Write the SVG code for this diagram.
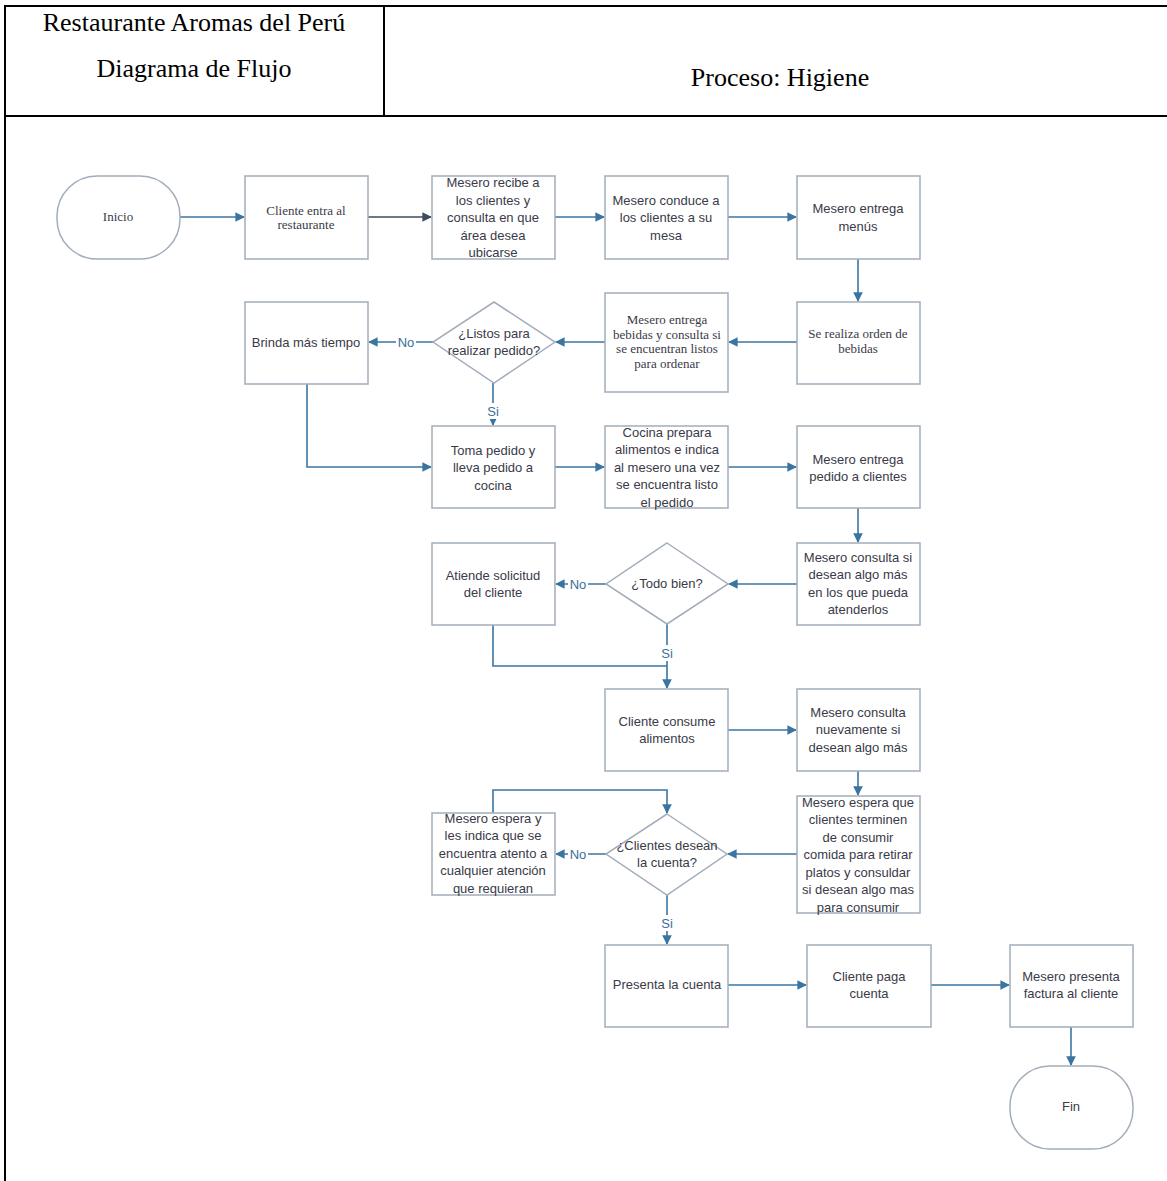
<svg xmlns="http://www.w3.org/2000/svg" width="1167" height="1181" viewBox="0 0 1167 1181">
  <defs>
    <style>
      .frame { stroke: #000; stroke-width: 2; fill: none; }
      .hdr { font-family: "Liberation Serif", "Times New Roman", serif; font-size: 26px; fill: #000; text-anchor: middle; }
      .box { fill: #fff; stroke: #a3adbb; stroke-width: 1.5; }
      .t { font-family: "Liberation Sans", Arial, sans-serif; font-size: 13px; fill: #3a3a48; text-anchor: middle; }
      .s { font-family: "Liberation Serif", "Times New Roman", serif; font-size: 13px; fill: #3a3a48; text-anchor: middle; }
      .c { fill: none; stroke: #3a75a2; stroke-width: 1.6; }
      .dark { stroke: #3d4c5c; }
      .lbl { font-family: "Liberation Sans", Arial, sans-serif; font-size: 13px; fill: #3a6f99; text-anchor: middle; }
      .lblbg { fill: #fff; }
    </style>
    <marker id="arr" viewBox="0 0 10 10" refX="9" refY="5" markerWidth="6" markerHeight="6" orient="auto" markerUnits="strokeWidth">
      <path d="M0,0 L10,5 L0,10 Z" fill="#3a75a2"/>
    </marker>
    <marker id="arrDark" viewBox="0 0 10 10" refX="9" refY="5" markerWidth="6" markerHeight="6" orient="auto" markerUnits="strokeWidth">
      <path d="M0,0 L10,5 L0,10 Z" fill="#3d4c5c"/>
    </marker>
  </defs>

  <rect width="1167" height="1181" fill="#fff"/>

  <!-- Header table -->
  <g id="header">
    <line class="frame" x1="4" y1="6" x2="1167" y2="6"/>
    <line class="frame" x1="5" y1="5" x2="5" y2="1181"/>
    <line class="frame" x1="384" y1="6" x2="384" y2="116"/>
    <line class="frame" x1="4" y1="116" x2="1167" y2="116"/>
    <text class="hdr" x="194" y="31">Restaurante Aromas del Perú</text>
    <text class="hdr" x="194" y="77">Diagrama de Flujo</text>
    <text class="hdr" x="780" y="86">Proceso: Higiene</text>
  </g>

  <!-- Connectors -->
  <g id="connectors">
    <path class="c" d="M180,217 H244" marker-end="url(#arr)"/>
    <path class="c dark" d="M368,217 H431" marker-end="url(#arrDark)"/>
    <path class="c" d="M555,217 H604" marker-end="url(#arr)"/>
    <path class="c" d="M728,217 H796" marker-end="url(#arr)"/>
    <path class="c" d="M858,259 V301" marker-end="url(#arr)"/>
    <path class="c" d="M797,342 H729" marker-end="url(#arr)"/>
    <path class="c" d="M605,342 H556" marker-end="url(#arr)"/>
    <path class="c" d="M433,342 H369" marker-end="url(#arr)"/>
    <path class="c" d="M493,383 V425" marker-end="url(#arr)"/>
    <path class="c" d="M307,384 V467 H431" marker-end="url(#arr)"/>
    <path class="c" d="M555,467 H604" marker-end="url(#arr)"/>
    <path class="c" d="M728,467 H796" marker-end="url(#arr)"/>
    <path class="c" d="M858,508 V542" marker-end="url(#arr)"/>
    <path class="c" d="M797,584 H729" marker-end="url(#arr)"/>
    <path class="c" d="M606,584 H556" marker-end="url(#arr)"/>
    <path class="c" d="M667,624 V688" marker-end="url(#arr)"/>
    <path class="c" d="M493,625 V666 H667"/>
    <path class="c" d="M728,730 H796" marker-end="url(#arr)"/>
    <path class="c" d="M858,771 V795" marker-end="url(#arr)"/>
    <path class="c" d="M797,854 H728" marker-end="url(#arr)"/>
    <path class="c" d="M606,854 H556" marker-end="url(#arr)"/>
    <path class="c" d="M493,813 V790 H667 V813" marker-end="url(#arr)"/>
    <path class="c" d="M667,895 V944" marker-end="url(#arr)"/>
    <path class="c" d="M728,985 H806" marker-end="url(#arr)"/>
    <path class="c" d="M931,985 H1009" marker-end="url(#arr)"/>
    <path class="c" d="M1071,1027 V1065" marker-end="url(#arr)"/>

    <!-- Branch labels -->
    <rect class="lblbg" x="396" y="334" width="20" height="16"/>
    <text class="lbl" x="406" y="347">No</text>
    <rect class="lblbg" x="485" y="403" width="16" height="16"/>
    <text class="lbl" x="493" y="416">Si</text>
    <rect class="lblbg" x="568" y="576" width="20" height="16"/>
    <text class="lbl" x="578" y="589">No</text>
    <rect class="lblbg" x="659" y="645" width="16" height="16"/>
    <text class="lbl" x="667" y="658">Si</text>
    <rect class="lblbg" x="568" y="846" width="20" height="16"/>
    <text class="lbl" x="578" y="859">No</text>
    <rect class="lblbg" x="659" y="915" width="16" height="16"/>
    <text class="lbl" x="667" y="928">Si</text>
  </g>

  <!-- Nodes -->
  <g id="inicio">
    <rect class="box" x="57" y="176" width="123" height="83" rx="40" ry="40"/>
    <text class="s" x="118" y="221">Inicio</text>
  </g>
  <g id="cliente-entra">
    <rect class="box" x="245" y="176" width="123" height="83"/>
    <text class="s" x="306" y="215">Cliente entra al</text>
    <text class="s" x="306" y="229">restaurante</text>
  </g>
  <g id="mesero-recibe">
    <rect class="box" x="432" y="176" width="123" height="83"/>
    <text class="t" x="493" y="187">Mesero recibe a</text>
    <text class="t" x="493" y="204.5">los clientes y</text>
    <text class="t" x="493" y="222">consulta en que</text>
    <text class="t" x="493" y="239.5">área desea</text>
    <text class="t" x="493" y="257">ubicarse</text>
  </g>
  <g id="mesero-conduce">
    <rect class="box" x="605" y="176" width="123" height="83"/>
    <text class="t" x="666" y="204.5">Mesero conduce a</text>
    <text class="t" x="666" y="222">los clientes a su</text>
    <text class="t" x="666" y="239.5">mesa</text>
  </g>
  <g id="entrega-menus">
    <rect class="box" x="797" y="176" width="123" height="83"/>
    <text class="t" x="858" y="213">Mesero entrega</text>
    <text class="t" x="858" y="230.5">menús</text>
  </g>
  <g id="orden-bebidas">
    <rect class="box" x="797" y="302" width="123" height="82"/>
    <text class="s" x="858" y="338">Se realiza orden de</text>
    <text class="s" x="858" y="353">bebidas</text>
  </g>
  <g id="entrega-bebidas">
    <rect class="box" x="605" y="293" width="123" height="99"/>
    <text class="s" x="667" y="324">Mesero entrega</text>
    <text class="s" x="667" y="338.5">bebidas y consulta si</text>
    <text class="s" x="667" y="353">se encuentran listos</text>
    <text class="s" x="667" y="367.5">para ordenar</text>
  </g>
  <g id="listos-pedido">
    <polygon class="box" points="494,302 555,342 494,383 433,342"/>
    <text class="t" x="494" y="337.5">¿Listos para</text>
    <text class="t" x="494" y="355">realizar pedido?</text>
  </g>
  <g id="brinda-tiempo">
    <rect class="box" x="245" y="302" width="123" height="82"/>
    <text class="t" x="306" y="346.5">Brinda más tiempo</text>
  </g>
  <g id="toma-pedido">
    <rect class="box" x="432" y="426" width="123" height="82"/>
    <text class="t" x="493" y="454.5">Toma pedido y</text>
    <text class="t" x="493" y="472">lleva pedido a</text>
    <text class="t" x="493" y="489.5">cocina</text>
  </g>
  <g id="cocina-prepara">
    <rect class="box" x="605" y="426" width="123" height="82"/>
    <text class="t" x="667" y="436.5">Cocina prepara</text>
    <text class="t" x="667" y="454">alimentos e indica</text>
    <text class="t" x="667" y="471.5">al mesero una vez</text>
    <text class="t" x="667" y="489">se encuentra listo</text>
    <text class="t" x="667" y="506.5">el pedido</text>
  </g>
  <g id="entrega-pedido">
    <rect class="box" x="797" y="426" width="123" height="82"/>
    <text class="t" x="858" y="463.5">Mesero entrega</text>
    <text class="t" x="858" y="481">pedido a clientes</text>
  </g>
  <g id="consulta-algo-mas">
    <rect class="box" x="797" y="543" width="123" height="82"/>
    <text class="t" x="858" y="561.5">Mesero consulta si</text>
    <text class="t" x="858" y="579">desean algo más</text>
    <text class="t" x="858" y="596.5">en los que pueda</text>
    <text class="t" x="858" y="614">atenderlos</text>
  </g>
  <g id="todo-bien">
    <polygon class="box" points="667,543 728,584 667,624 606,584"/>
    <text class="t" x="667" y="588">¿Todo bien?</text>
  </g>
  <g id="atiende-solicitud">
    <rect class="box" x="432" y="543" width="123" height="82"/>
    <text class="t" x="493" y="579.5">Atiende solicitud</text>
    <text class="t" x="493" y="597">del cliente</text>
  </g>
  <g id="cliente-consume">
    <rect class="box" x="605" y="689" width="123" height="82"/>
    <text class="t" x="667" y="725.5">Cliente consume</text>
    <text class="t" x="667" y="743">alimentos</text>
  </g>
  <g id="consulta-nuevamente">
    <rect class="box" x="797" y="689" width="123" height="82"/>
    <text class="t" x="858" y="716.5">Mesero consulta</text>
    <text class="t" x="858" y="734">nuevamente si</text>
    <text class="t" x="858" y="751.5">desean algo más</text>
  </g>
  <g id="espera-terminen">
    <rect class="box" x="797" y="796" width="123" height="117"/>
    <text class="t" x="858" y="806.5">Mesero espera que</text>
    <text class="t" x="858" y="824">clientes terminen</text>
    <text class="t" x="858" y="841.5">de consumir</text>
    <text class="t" x="858" y="859">comida para retirar</text>
    <text class="t" x="858" y="876.5">platos y consuldar</text>
    <text class="t" x="858" y="894">si desean algo mas</text>
    <text class="t" x="858" y="911.5">para consumir</text>
  </g>
  <g id="desean-cuenta">
    <polygon class="box" points="667,814 727,854 667,895 606,854"/>
    <text class="t" x="667" y="849.5">¿Clientes desean</text>
    <text class="t" x="667" y="867">la cuenta?</text>
  </g>
  <g id="mesero-espera">
    <rect class="box" x="432" y="813" width="123" height="82"/>
    <text class="t" x="493" y="822.5">Mesero espera y</text>
    <text class="t" x="493" y="840">les indica que se</text>
    <text class="t" x="493" y="857.5">encuentra atento a</text>
    <text class="t" x="493" y="875">cualquier atención</text>
    <text class="t" x="493" y="892.5">que requieran</text>
  </g>
  <g id="presenta-cuenta">
    <rect class="box" x="605" y="945" width="123" height="82"/>
    <text class="t" x="667" y="988.5">Presenta la cuenta</text>
  </g>
  <g id="cliente-paga">
    <rect class="box" x="807" y="945" width="124" height="82"/>
    <text class="t" x="869" y="980.5">Cliente paga</text>
    <text class="t" x="869" y="998">cuenta</text>
  </g>
  <g id="presenta-factura">
    <rect class="box" x="1010" y="945" width="123" height="82"/>
    <text class="t" x="1071" y="980.5">Mesero presenta</text>
    <text class="t" x="1071" y="998">factura al cliente</text>
  </g>
  <g id="fin">
    <rect class="box" x="1010" y="1066" width="123" height="83" rx="40" ry="40"/>
    <text class="t" x="1071" y="1111">Fin</text>
  </g>
</svg>
